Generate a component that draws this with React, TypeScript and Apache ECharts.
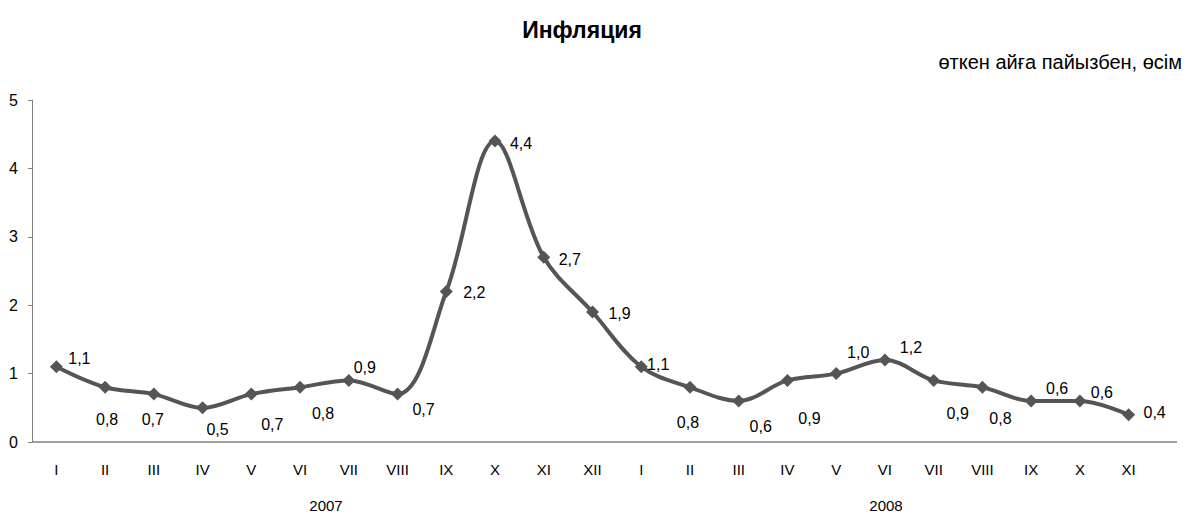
import React, { useEffect, useRef } from "react";
import * as echarts from "echarts";

const months = ["I","II","III","IV","V","VI","VII","VIII","IX","X","XI","XII","I","II","III","IV","V","VI","VII","VIII","IX","X","XI"];
const values = [1.1,0.8,0.7,0.5,0.7,0.8,0.9,0.7,2.2,4.4,2.7,1.9,1.1,0.8,0.6,0.9,1.0,1.2,0.9,0.8,0.6,0.6,0.4];
const labelOffsets: [number, number][] = [
  [23,-8],[2,32],[-1,25],[15,22],[21,30],[23,26],[16,-13],[26,15],[28,1],[26,2],[26,2],[27,1],
  [17,-2],[-2,35],[22,26],[22,38],[22,-21],[26,-12],[24,33],[18,31],[26,-12],[22,-8],[26,-2]
];
const yearLabels = ["2007", "2008"];
const yTicks = [0, 1, 2, 3, 4, 5];
const titleText = "Инфляция";
const subtitleText = "өткен айға пайызбен, өсім";

const FONT = "'Liberation Sans', Arial, sans-serif";

export default function App() {
  const ref = useRef<HTMLDivElement>(null);
  useEffect(() => {
    if (!ref.current) return;
    const chart = echarts.init(ref.current, null, { renderer: "svg" });
    const data = values.map((v, i) => ({
      value: v,
      label: { offset: labelOffsets[i] },
    }));
    chart.setOption({
      animation: false,
      textStyle: { fontFamily: FONT },
      grid: { left: 32, right: 36, top: 100, bottom: 72, containLabel: false },
      xAxis: {
        type: "category",
        data: months,
        boundaryGap: true,
        axisLine: { show: false },
        axisTick: { show: false },
        axisLabel: { color: "#000", fontSize: 15, margin: 20, fontFamily: FONT, interval: 0 },
      },
      yAxis: {
        type: "value",
        min: yTicks[0],
        max: yTicks[yTicks.length - 1],
        interval: 1,
        splitLine: { show: false },
        axisLine: { show: true, lineStyle: { color: "#808080", width: 1 } },
        axisTick: { show: true, inside: false, length: 4, lineStyle: { color: "#808080" } },
        axisLabel: { color: "#000", fontSize: 16, margin: 14, fontFamily: FONT },
      },
      series: [
        {
          type: "line",
          data,
          smooth: 0.35,
          symbol: "diamond",
          symbolSize: 13,
          lineStyle: { color: "#555555", width: 4 },
          itemStyle: { color: "#555555" },
          label: {
            show: true,
            position: "inside",
            align: "center",
            verticalAlign: "middle",
            color: "#000",
            fontSize: 16,
            fontFamily: FONT,
            formatter: (p: any) => p.value.toFixed(1).replace(".", ","),
          },
        },
      ],
      graphic: [
        {
          type: "line",
          shape: { x1: 32, y1: 442, x2: 1177, y2: 442 },
          style: { stroke: "#808080", lineWidth: 1.5 },
          silent: true,
        },
        {
          type: "text",
          x: 582,
          y: 30,
          style: { text: titleText, font: `bold 23px ${FONT}`, fill: "#000", textAlign: "center", textVerticalAlign: "middle" },
        },
        {
          type: "text",
          x: 1182,
          y: 62,
          style: { text: subtitleText, font: `20px ${FONT}`, fill: "#000", textAlign: "right", textVerticalAlign: "middle" },
        },
        {
          type: "text",
          x: 326,
          y: 505,
          style: { text: yearLabels[0], font: `15px ${FONT}`, fill: "#000", textAlign: "center", textVerticalAlign: "middle" },
        },
        {
          type: "text",
          x: 886,
          y: 505,
          style: { text: yearLabels[1], font: `15px ${FONT}`, fill: "#000", textAlign: "center", textVerticalAlign: "middle" },
        },
      ],
    });
    return () => chart.dispose();
  }, []);
  return (
    <div
      ref={ref}
      style={{ position: "absolute", left: 0, top: 0, width: 1189, height: 514, background: "#fff" }}
    />
  );
}
